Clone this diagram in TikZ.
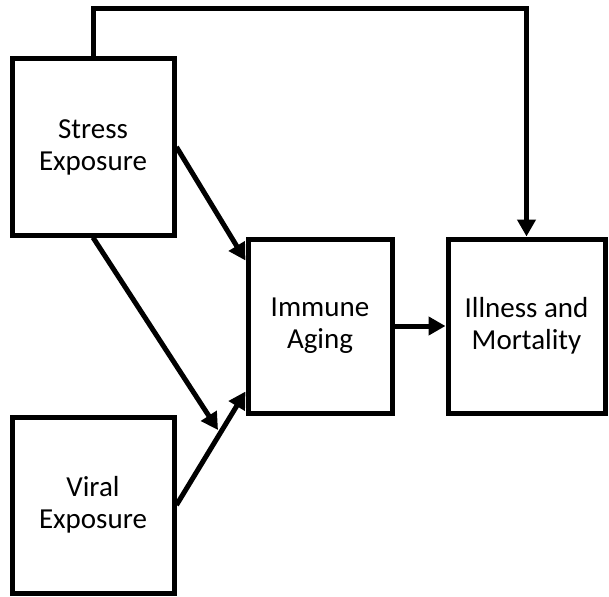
\documentclass[tikz,border=0pt]{standalone}
\usepackage{fontspec}
\setmainfont{Carlito}
\usetikzlibrary{arrows.meta}
\begin{document}
\begin{tikzpicture}[
    x=1pt, y=-1pt,
    box/.style={rectangle, draw, line width=5pt, align=center, inner sep=0pt, minimum width=#1, font=\fontsize{29}{32}\selectfont},
    arrow/.style={-{Triangle[length=17pt,width=18pt]}, line width=5pt}
]
    \useasboundingbox (0,0) rectangle (609,596);

    \node[box=162pt, minimum height=176pt] (stress) at (93,147) {Stress\\Exposure};
    \node[box=162pt, minimum height=176pt] (viral) at (93,505) {Viral\\Exposure};
    \node[box=144pt, minimum height=174pt] (immune) at (320,326) {Immune\\Aging};
    \node[box=157pt, minimum height=174pt] (illness) at (526.5,326) {Illness and\\Mortality};
    \coordinate (meet) at (218,430);

    \draw[arrow] (stress.north) -- ++(0,-48) -| (illness.north);
    \draw[arrow] (stress.east) -- ([yshift=-24pt]immune.north west);
    \draw[arrow] (stress.south) -- (meet);
    \draw[arrow] (viral.east) -- ([yshift=24pt]immune.south west);
    \draw[arrow] (immune.east) -- (illness.west);
\end{tikzpicture}
\end{document}
